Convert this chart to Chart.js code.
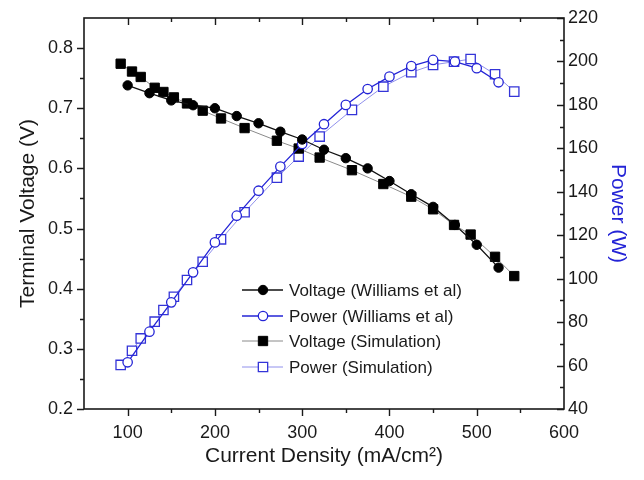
<!DOCTYPE html>
<html>
<head>
<meta charset="utf-8">
<script src="https://cdn.jsdelivr.net/npm/chart.js@4.4.1/dist/chart.umd.min.js"></script>
<style>
  html, body { margin: 0; padding: 0; background: #fff; }
</style>
</head>
<body>
<canvas id="fcChart" width="644" height="480"></canvas>
<script>
// Williams et al (experiment)
const williamsCurrent = [100, 125, 150, 175, 200, 225, 250, 275, 300, 325, 350, 375, 400, 425, 450, 475, 500, 525];
const williamsVoltage = [0.738, 0.725, 0.713, 0.705, 0.700, 0.687, 0.675, 0.661, 0.648, 0.631, 0.617, 0.600, 0.579, 0.557, 0.536, 0.506, 0.473, 0.435];
const williamsPower = [61.5, 75.6, 89.1, 102.9, 116.7, 129.0, 140.5, 151.6, 162.0, 171.1, 180.0, 187.3, 193.0, 197.9, 200.7, 199.9, 196.9, 190.4];

// simulation
const simCurrent = [92, 105, 115, 131, 141, 153, 168, 186, 207, 234, 271, 296, 320, 357, 393, 425, 450, 474, 493, 521, 543];
const simVoltage = [0.774, 0.761, 0.752, 0.734, 0.727, 0.718, 0.708, 0.696, 0.683, 0.667, 0.646, 0.633, 0.618, 0.597, 0.574, 0.553, 0.532, 0.506, 0.490, 0.453, 0.421];
const simPower = [60.3, 66.8, 72.5, 80.2, 85.6, 91.7, 99.4, 107.8, 118.1, 130.6, 146.5, 156.2, 165.4, 177.7, 188.4, 195.0, 198.4, 199.9, 201.1, 194.1, 186.1];

// tick labels
const currentTicks = [100, 200, 300, 400, 500, 600];
const voltageTicks = [0.2, 0.3, 0.4, 0.5, 0.6, 0.7, 0.8];
const powerTicks = [40, 60, 80, 100, 120, 140, 160, 180, 200, 220];

const seriesNames = ['Voltage (Williams et al)', 'Power (Williams et al)', 'Voltage (Simulation)', 'Power (Simulation)'];

function pairs(xs, ys) {
    return xs.map((x, i) => ({ x: x, y: ys[i] }));
}

function midpoints(arr) {
    var out = [];
    for (var i = 0; i < arr.length - 1; i++) out.push((arr[i] + arr[i + 1]) / 2);
    return out;
}

const FONT = '"Liberation Sans", Arial, Helvetica, sans-serif';
const INK = '#1a1a1a';
const BLUE = '#2424d6';

// frame + tick marks, drawn from the scales
const framePlugin = {
    id: 'frame',
    afterDraw(chart) {
        const ctx = chart.ctx;
        const a = chart.chartArea;
        const sx = chart.scales.x, sv = chart.scales.yV, sp = chart.scales.yP;
        ctx.save();
        ctx.strokeStyle = INK;
        ctx.lineWidth = 1.6;
        ctx.strokeRect(a.left, a.top, a.right - a.left, a.bottom - a.top);
        ctx.lineWidth = 1.4;
        ctx.beginPath();
        function xt(vals, len) {
            vals.forEach(v => {
                var p = Math.round(sx.getPixelForValue(v)) + 0.5;
                ctx.moveTo(p, a.bottom); ctx.lineTo(p, a.bottom + len);
                ctx.moveTo(p, a.top); ctx.lineTo(p, a.top + len);
            });
        }
        function vt(vals, len) {
            vals.forEach(v => {
                var p = Math.round(sv.getPixelForValue(v)) + 0.5;
                ctx.moveTo(a.left - len, p); ctx.lineTo(a.left, p);
            });
        }
        function pt(vals, len) {
            vals.forEach(v => {
                var p = Math.round(sp.getPixelForValue(v)) + 0.5;
                ctx.moveTo(a.right - len, p); ctx.lineTo(a.right, p);
            });
        }
        xt(currentTicks.slice(0, -1), 7);
        xt(midpoints(currentTicks), 4);
        vt(voltageTicks, 7);
        vt(midpoints(voltageTicks), 4);
        pt(powerTicks, 7);
        pt(midpoints(powerTicks), 4);
        ctx.stroke();

        // legend inside the plot
        const rows = [290, 316, 341, 367];
        ctx.font = '17px ' + FONT;
        ctx.textBaseline = 'middle';
        ctx.textAlign = 'left';
        chart.data.datasets.forEach((ds, i) => {
            var y = rows[i];
            ctx.strokeStyle = ds.borderColor;
            ctx.lineWidth = ds.borderWidth;
            ctx.beginPath();
            ctx.moveTo(242, y); ctx.lineTo(283, y);
            ctx.stroke();
            ctx.fillStyle = ds.pointBackgroundColor;
            ctx.strokeStyle = ds.pointBorderColor;
            ctx.lineWidth = ds.pointBorderWidth;
            Chart.helpers.drawPoint(ctx, { pointStyle: ds.pointStyle, radius: ds.pointRadius, borderWidth: ds.pointBorderWidth, rotation: 0 }, 263, y);
            ctx.fillStyle = INK;
            ctx.fillText(ds.label, 289, y + 1);
        });
        ctx.restore();
    }
};

const datasets = [
    {
        label: seriesNames[0], data: pairs(williamsCurrent, williamsVoltage), yAxisID: 'yV',
        borderColor: '#111111', borderWidth: 1.3,
        pointStyle: 'circle', pointRadius: 4.7, pointBackgroundColor: '#000000', pointBorderColor: '#000000', pointBorderWidth: 1
    },
    {
        label: seriesNames[1], data: pairs(williamsCurrent, williamsPower), yAxisID: 'yP',
        borderColor: BLUE, borderWidth: 1.3,
        pointStyle: 'circle', pointRadius: 4.7, pointBackgroundColor: '#ffffff', pointBorderColor: BLUE, pointBorderWidth: 1.3
    },
    {
        label: seriesNames[2], data: pairs(simCurrent, simVoltage), yAxisID: 'yV',
        borderColor: '#8a8a8a', borderWidth: 1,
        pointStyle: 'rect', pointRadius: 6.6, pointBackgroundColor: '#000000', pointBorderColor: '#000000', pointBorderWidth: 1
    },
    {
        label: seriesNames[3], data: pairs(simCurrent, simPower), yAxisID: 'yP',
        borderColor: '#9090ec', borderWidth: 1,
        pointStyle: 'rect', pointRadius: 6.6, pointBackgroundColor: '#ffffff', pointBorderColor: '#3434d8', pointBorderWidth: 1.3
    }
];

new Chart(document.getElementById('fcChart').getContext('2d'), {
    type: 'line',
    data: { datasets: datasets },
    options: {
        responsive: false,
        animation: false,
        layout: { padding: { top: 18, left: 0, right: 0, bottom: 0 } },
        plugins: { legend: { display: false }, tooltip: { enabled: false } },
        elements: { line: { tension: 0 } },
        scales: {
            x: {
                type: 'linear', min: 50, max: 600,
                afterBuildTicks: s => { s.ticks = currentTicks.map(v => ({ value: v })); },
                afterFit: s => { s.height = 71; },
                grid: { display: false }, border: { display: false },
                ticks: { color: INK, font: { family: FONT, size: 18 }, padding: 5, maxRotation: 0 },
                title: { display: true, text: 'Current Density (mA/cm\u00b2)', color: INK, font: { family: FONT, size: 21 }, padding: { top: 0, bottom: 11 } }
            },
            yV: {
                type: 'linear', position: 'left', min: 0.2, max: 0.85,
                afterBuildTicks: s => { s.ticks = voltageTicks.map(v => ({ value: v })); },
                afterFit: s => { s.width = 84; },
                grid: { display: false }, border: { display: false },
                ticks: { color: INK, font: { family: FONT, size: 18 }, padding: 3, callback: v => v.toFixed(1) },
                title: { display: true, text: 'Terminal Voltage (V)', color: INK, font: { family: FONT, size: 21 }, padding: { top: 16, bottom: 0 } }
            },
            yP: {
                type: 'linear', position: 'right', min: 40, max: 220,
                afterBuildTicks: s => { s.ticks = powerTicks.map(v => ({ value: v })); },
                afterFit: s => { s.width = 80; },
                grid: { display: false }, border: { display: false },
                ticks: { color: INK, font: { family: FONT, size: 18 }, padding: -4 },
                title: { display: true, text: 'Power (W)', color: BLUE, font: { family: FONT, size: 21 }, padding: { top: 14, bottom: 0 } }
            }
        }
    },
    plugins: [framePlugin]
});
</script>
</body>
</html>
